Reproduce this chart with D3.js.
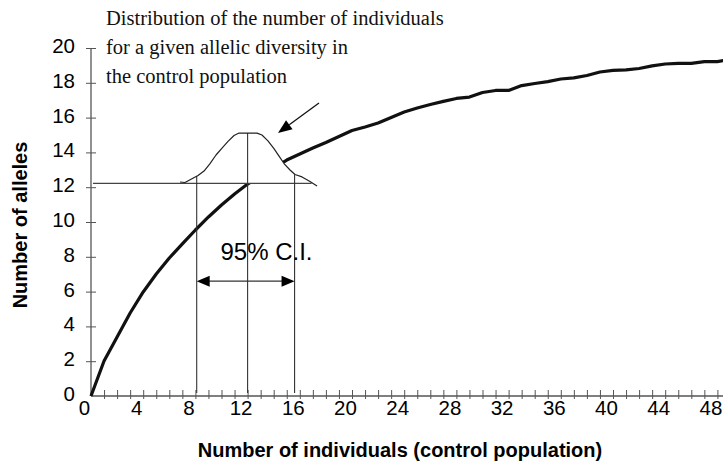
<!DOCTYPE html>
<html><head><meta charset="utf-8">
<script src="https://cdn.jsdelivr.net/npm/d3@7"></script>
<style>
html,body{margin:0;padding:0;background:#fff;}
svg{display:block;}
</style></head><body>
<svg id="chart" width="723" height="462"></svg>
<script>
// ---------- data ----------
const individuals = [0,1,2,3,4,5,6,7,8,9,10,11,12,13,14,15,16,17,18,19,20,21,22,23,24,
  25,26,27,28,29,30,31,32,33,34,35,36,37,38,39,40,41,42,43,44,45,46,47,48,49];
const alleles = [0,2.01,3.39,4.77,5.98,7.01,7.93,8.74,9.54,10.29,10.98,11.61,12.18,12.64,13.1,
  13.56,13.91,14.25,14.57,14.91,15.26,15.46,15.69,16.01,16.32,16.55,16.75,16.93,17.10,17.18,
  17.44,17.56,17.56,17.84,17.96,18.07,18.22,18.28,18.42,18.62,18.71,18.74,18.82,18.97,19.08,
  19.12,19.12,19.22,19.22,19.34];

// distribution (bell) drawn over the curve
const bellX = [6.82,7.20,8.20,8.66,9.12,9.58,10.04,10.50,10.96,11.34,12.72,13.10,13.56,14.02,
  14.41,14.79,15.25,15.63,16.17,16.78,17.32];
const bellY = [12.30,12.27,12.67,12.93,13.36,13.85,14.25,14.63,14.97,15.11,15.11,15.00,14.66,
  14.22,13.79,13.36,12.99,12.73,12.59,12.33,12.07];

const allelicLevel = 12.22;          // horizontal reference line
const levelEndX = 16.9;
const ciX = [8.1, 12, 15.6];          // lower CI, median, upper CI
const ciTop = [12.65, 15.11, 12.73];  // where vertical lines meet the bell
const ciArrowY = 6.6;
const ciLabel = "95% C.I.";
const pointerFrom = [17.47, 16.84];
const pointerTo = [14.33, 15.11];

const xTicks = [1,2,3,4,5,6,7,8,9,10,11,12,13,14,15,16,17,18,19,20,21,22,23,24,25,26,27,28,
  29,30,31,32,33,34,35,36,37,38,39,40,41,42,43,44,45,46,47,48];
const xLabels = [0,4,8,12,16,20,24,28,32,36,40,44,48];
const yTicks = [0,2,4,6,8,10,12,14,16,18,20];
const noteLines = ["Distribution of the number of individuals",
  "for a given allelic diversity in", "the control population"];
const xTitle = "Number of individuals (control population)";
const yTitle = "Number of alleles";

// ---------- chart ----------
const svg = d3.select('#chart');
const x = d3.scaleLinear().domain([0,48]).range([91,717.4]);
const y = d3.scaleLinear().domain([0,20]).range([396,48]);
const sans = "Arial, 'Liberation Sans', Helvetica, sans-serif";
const serif = "'Times New Roman', 'Liberation Serif', Times, serif";
const axisCol = "#555";

// x axis
const gx = svg.append('g').attr('transform', `translate(0,${y(0)})`)
  .call(d3.axisBottom(x).tickValues(xLabels.concat(xTicks).filter((v,i,a)=>a.indexOf(v)===i))
    .tickSizeInner(-6).tickSizeOuter(0)
    .tickFormat(d => xLabels.includes(d) ? d : ''));
gx.select('.domain').attr('d', `M${x(0)},0H723`).attr('stroke', axisCol).attr('stroke-width',1.3);
gx.selectAll('.tick line').attr('y1', 3).attr('stroke', axisCol);
gx.selectAll('.tick').filter(d => d === 0).select('line').remove();
gx.selectAll('.tick text').attr('y', 4).attr('dx', -7)
  .attr('font-size', 20.5).attr('font-family', sans).attr('fill', '#000');

// y axis
const gy = svg.append('g').attr('transform', `translate(${x(0)},0)`)
  .call(d3.axisLeft(y).tickValues(yTicks).tickSizeInner(5).tickSizeOuter(0));
gy.select('.domain').attr('d', `M0,${y(0)}V${y(20)}`).attr('stroke', axisCol).attr('stroke-width',1.3);
gy.selectAll('.tick line').attr('x1', 5).attr('stroke', axisCol);
gy.selectAll('.tick').filter(d => d === 0).select('line').remove();
gy.selectAll('.tick text').attr('x', -16).attr('y', -2)
  .attr('font-size', 20.5).attr('font-family', sans).attr('fill', '#000');

// main curve
const pts = individuals.map((d,i) => [d, alleles[i]]);
svg.append('path').datum(pts)
  .attr('d', d3.line().x(d => x(d[0])).y(d => y(d[1])))
  .attr('fill', 'none').attr('stroke', '#111').attr('stroke-width', 3.2)
  .attr('stroke-linejoin', 'round');

// bell white fill (hides the curve beneath it)
const bellPts = bellX.map((d,i) => [d, bellY[i]]);
const bellLine = d3.line().x(d => x(d[0])).y(d => y(d[1]));
svg.append('path').attr('d', bellLine(bellPts) + 'Z').attr('fill', '#fff').attr('stroke', 'none');

// horizontal reference line
svg.append('line').attr('x1', x(0.15)).attr('x2', x(levelEndX))
  .attr('y1', y(allelicLevel)).attr('y2', y(allelicLevel))
  .attr('stroke', '#444').attr('stroke-width', 1.2);

// vertical CI lines
ciX.forEach((cx, i) => {
  svg.append('line').attr('x1', x(cx)).attr('x2', x(cx))
    .attr('y1', y(ciTop[i])).attr('y2', y(0) - 3)
    .attr('stroke', '#333').attr('stroke-width', 1.1);
});

// bell outline
svg.append('path').attr('d', bellLine(bellPts))
  .attr('fill', 'none').attr('stroke', '#222').attr('stroke-width', 1.2)
  .attr('stroke-linejoin', 'round');

// CI double arrow
const ay = y(ciArrowY), ax1 = x(ciX[0]), ax2 = x(ciX[2]);
svg.append('line').attr('x1', ax1 + 10).attr('x2', ax2 - 10).attr('y1', ay).attr('y2', ay)
  .attr('stroke', '#333').attr('stroke-width', 1.2);
svg.append('path').attr('d', `M${ax1},${ay}L${ax1+13},${ay-5.5}L${ax1+13},${ay+5.5}Z`).attr('fill', '#000');
svg.append('path').attr('d', `M${ax2},${ay}L${ax2-13},${ay-5.5}L${ax2-13},${ay+5.5}Z`).attr('fill', '#000');

svg.append('text').attr('x', x(13.45)).attr('y', 260).attr('text-anchor', 'middle')
  .attr('font-family', sans).attr('font-size', 24).text(ciLabel);

// pointer arrow
const p0 = [x(pointerFrom[0]), y(pointerFrom[1])], p1 = [x(pointerTo[0]), y(pointerTo[1])];
const dx = p1[0]-p0[0], dy = p1[1]-p0[1], L = Math.hypot(dx, dy), ux = dx/L, uy = dy/L;
const hb = [p1[0]-ux*14, p1[1]-uy*14];
svg.append('line').attr('x1', p0[0]).attr('y1', p0[1]).attr('x2', hb[0]).attr('y2', hb[1])
  .attr('stroke', '#111').attr('stroke-width', 1.3);
svg.append('path').attr('d', `M${p1[0]},${p1[1]}L${hb[0]-uy*5.5},${hb[1]+ux*5.5}L${hb[0]+uy*5.5},${hb[1]-ux*5.5}Z`)
  .attr('fill', '#000');

// annotation text
noteLines.forEach((t, i) => {
  svg.append('text').attr('x', 106).attr('y', 25 + i*29)
    .attr('font-family', serif).attr('font-size', 20.5).attr('fill', '#111').text(t);
});

// axis titles
svg.append('text').attr('x', 400).attr('y', 457).attr('text-anchor', 'middle')
  .attr('font-family', sans).attr('font-weight', 'bold').attr('font-size', 20).text(xTitle);
svg.append('text').attr('transform', 'translate(27,225) rotate(-90)').attr('text-anchor', 'middle')
  .attr('font-family', sans).attr('font-weight', 'bold').attr('font-size', 20).text(yTitle);
</script>
</body></html>
